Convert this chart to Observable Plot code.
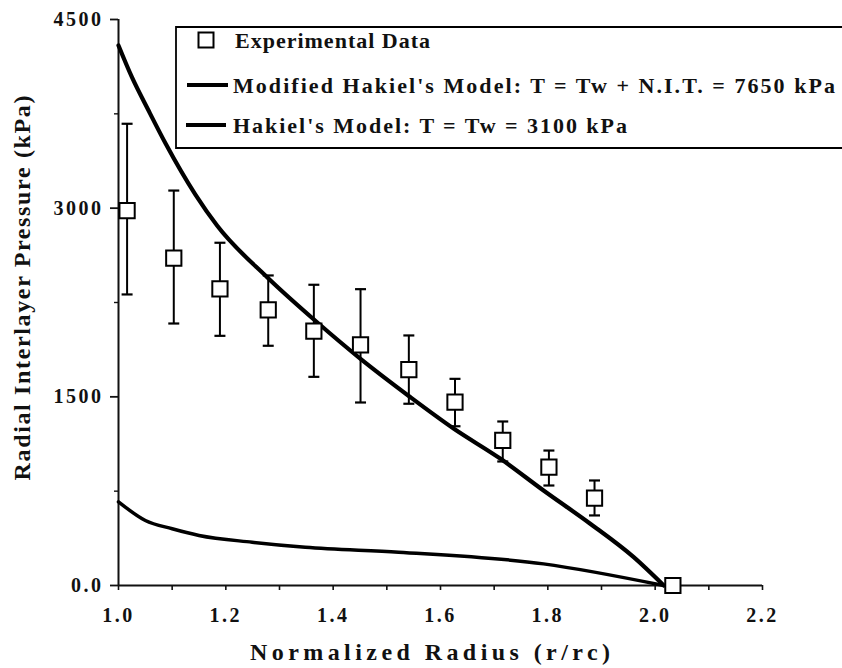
<!DOCTYPE html>
<html>
<head>
<meta charset="utf-8">
<script src="https://cdn.jsdelivr.net/npm/d3@7"></script>
<script src="https://cdn.jsdelivr.net/npm/@observablehq/plot@0.6"></script>
<style>
  html, body { margin: 0; padding: 0; background: #fff; }
  #chart svg { display: block; }
</style>
</head>
<body>
<div id="chart"></div>
<script>
// Axis ticks
const xTicks = [1.0, 1.2, 1.4, 1.6, 1.8, 2.0, 2.2];
const xMinorTicks = [1.1, 1.3, 1.5, 1.7, 1.9, 2.1];
const yTicks = [0, 1500, 3000, 4500];
const yTickLabels = ["0.0", "1500", "3000", "4500"];
const yMinorTicks = [750, 2250, 3750];

// Experimental data: normalized radius, pressure (kPa) and error bar limits
const expRadius   = [1.016, 1.103, 1.189, 1.279, 1.364, 1.451, 1.541, 1.627, 1.716, 1.802, 1.887, 2.033];
const expPressure = [2981, 2602, 2359, 2192, 2022, 1914, 1717, 1457, 1153, 941, 694, 0];
const expLow      = [2314, 2083, 1985, 1906, 1659, 1455, 1445, 1266, 986, 795, 557, null];
const expHigh     = [3671, 3140, 2725, 2465, 2391, 2356, 1988, 1643, 1304, 1073, 835, null];

// Modified Hakiel's model, T = Tw + N.I.T. = 7650 kPa
const modRadius   = [1.000, 1.025, 1.056, 1.088, 1.143, 1.184, 1.277, 1.370, 1.451, 1.544, 1.625, 1.712, 1.792, 1.879, 1.960, 2.016];
const modPressure = [4293, 4041, 3776, 3512, 3110, 2860, 2451, 2093, 1802, 1497, 1246, 1007, 755, 491, 225, 0];

// Hakiel's model, T = Tw = 3100 kPa
const hakRadius   = [1.000, 1.050, 1.100, 1.150, 1.249, 1.348, 1.522, 1.792, 2.016];
const hakPressure = [665, 517, 451, 398, 344, 304, 265, 172, 0];

const legendLabels = [
  "Experimental Data",
  "Modified Hakiel's Model: T = Tw + N.I.T. = 7650 kPa",
  "Hakiel's Model: T = Tw = 3100 kPa"
];
const xTitle = "Normalized Radius (r/rc)";
const yTitle = "Radial Interlayer Pressure (kPa)";

const experiments = expRadius.map((x, i) => ({x, y: expPressure[i], lo: expLow[i], hi: expHigh[i]}));
const withBars = experiments.filter(d => d.lo != null);
const modified = modRadius.map((x, i) => ({x, y: modPressure[i]}));
const hakiel = hakRadius.map((x, i) => ({x, y: hakPressure[i]}));

// horizontal cap for the error bars
const capSymbol = {
  draw(ctx, size) {
    const w = Math.sqrt(size);
    ctx.moveTo(-w / 2, 0);
    ctx.lineTo(w / 2, 0);
  }
};

const font = "'Liberation Serif', 'Times New Roman', serif";

const chart = Plot.plot({
  width: 842,
  height: 668,
  marginLeft: 118,
  marginRight: 80,
  marginTop: 19,
  marginBottom: 83,
  style: {fontFamily: font, fontWeight: "bold", color: "#111", background: "#fff"},
  x: {domain: [1, 2.2]},
  y: {domain: [0, 4500]},
  marks: [
    // minor and major tick marks on x
    Plot.axisX({ticks: [...xTicks, ...xMinorTicks], tickSize: 5, tickFormat: () => "", strokeWidth: 1.6, label: null}),
    Plot.axisX({ticks: xTicks, tickSize: 0, tickPadding: 22, tickFormat: d3.format(".1f"), label: null}),
    // y ticks
    Plot.axisY({ticks: yMinorTicks, tickSize: 4, tickFormat: () => "", strokeWidth: 1.4, label: null}),
    Plot.axisY({ticks: yTicks, tickSize: 8, tickPadding: 7, strokeWidth: 1.8,
      tickFormat: d => yTickLabels[yTicks.indexOf(d)], label: null}),
    // axis lines
    Plot.ruleX([1], {y1: 0, y2: 4500, strokeWidth: 2}),
    Plot.ruleY([0], {x1: 1, x2: 2.2, strokeWidth: 2}),
    // model curves
    Plot.line(hakiel, {x: "x", y: "y", curve: "monotone-x", strokeWidth: 3.5, stroke: "#000"}),
    Plot.line(modified, {x: "x", y: "y", curve: "monotone-x", strokeWidth: 4.2, stroke: "#000"}),
    // error bars
    Plot.ruleX(withBars, {x: "x", y1: "lo", y2: "hi", strokeWidth: 2, stroke: "#000"}),
    Plot.dot(withBars, {x: "x", y: "lo", symbol: capSymbol, r: 6.2, fill: "none", stroke: "#000", strokeWidth: 2.2}),
    Plot.dot(withBars, {x: "x", y: "hi", symbol: capSymbol, r: 6.2, fill: "none", stroke: "#000", strokeWidth: 2.2}),
    // experimental points
    Plot.dot(experiments, {x: "x", y: "y", symbol: "square", r: 8.6, fill: "#fff", stroke: "#000", strokeWidth: 2})
  ]
});

const svg = d3.select(chart);

// tick labels: large bold digits with open spacing
svg.selectAll("text")
  .style("font-size", "20px")
  .style("letter-spacing", "2.5px")
  .style("font-weight", "bold");

// axis titles
svg.append("text")
  .attr("x", 430).attr("y", 660)
  .attr("text-anchor", "middle")
  .attr("textLength", 360)
  .style("font", `bold 24px ${font}`)
  .attr("fill", "#111")
  .text(xTitle);

svg.append("text")
  .attr("transform", "translate(30,288) rotate(-90)")
  .attr("text-anchor", "middle")
  .attr("textLength", 385)
  .style("font", `bold 24px ${font}`)
  .attr("fill", "#111")
  .text(yTitle);

// legend box (open on the right)
const lg = svg.append("g");
lg.append("path")
  .attr("d", "M 900 27 H 176 V 148 H 900")
  .attr("fill", "#fff")
  .attr("stroke", "#000")
  .attr("stroke-width", 1.8);
lg.append("rect")
  .attr("x", 198.5).attr("y", 32.5).attr("width", 15).attr("height", 15)
  .attr("fill", "#fff").attr("stroke", "#000").attr("stroke-width", 2);
lg.append("line").attr("x1", 187).attr("x2", 228).attr("y1", 85).attr("y2", 85)
  .attr("stroke", "#000").attr("stroke-width", 4.2);
lg.append("line").attr("x1", 186).attr("x2", 226).attr("y1", 125).attr("y2", 125)
  .attr("stroke", "#000").attr("stroke-width", 4.2);
const legendRows = [
  {y: 48, len: 195},
  {y: 93, len: 602},
  {y: 133, len: 394}
];
legendLabels.forEach((t, i) => {
  lg.append("text")
    .attr("x", i === 0 ? 235 : 233).attr("y", legendRows[i].y)
    .attr("text-anchor", "start")
    .attr("textLength", legendRows[i].len)
    .style("font", `bold 22px ${font}`)
    .attr("fill", "#111")
    .text(t);
});

document.getElementById("chart").appendChild(chart);
</script>
</body>
</html>
